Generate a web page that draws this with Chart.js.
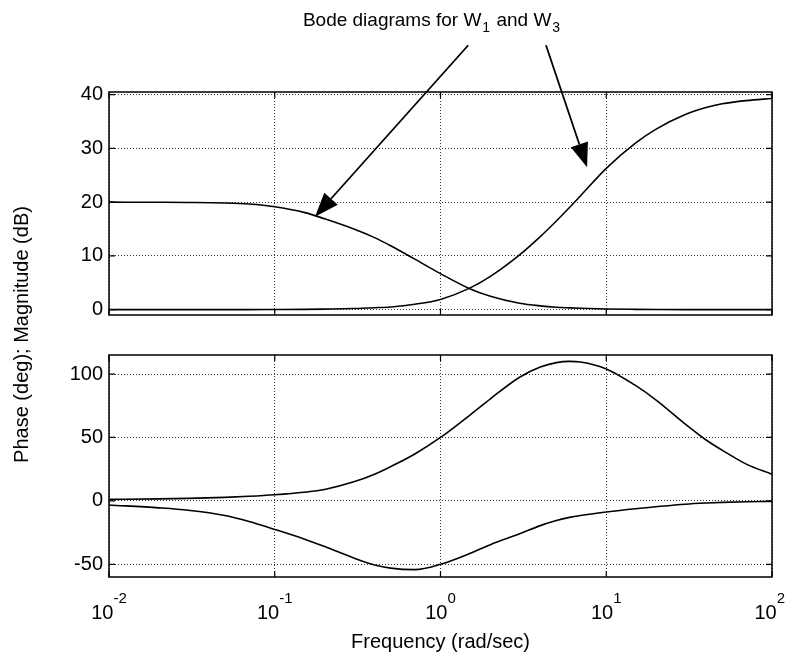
<!DOCTYPE html>
<html>
<head>
<meta charset="utf-8">
<script src="https://cdn.jsdelivr.net/npm/chart.js@4.4.0/dist/chart.umd.min.js"></script>
<style>
html,body{margin:0;padding:0;background:#fff;}
#wrap{position:relative;width:786px;height:659px;overflow:hidden;}
#wrap canvas{position:absolute;left:0;top:0;}
</style>
</head>
<body>
<div id="wrap">
<canvas id="mag" width="786" height="659"></canvas>
<canvas id="phase" width="786" height="659"></canvas>
</div>
<script>
// ---------- data ----------
const freq     = [0.01, 0.02, 0.03, 0.05, 0.07, 0.1, 0.15, 0.2, 0.3, 0.4, 0.5, 0.7, 1, 1.5, 2, 3, 4, 5, 6, 7, 10, 15, 20, 30, 40, 50, 70, 100];
const w1Mag    = [20, 19.98, 19.95, 19.85, 19.65, 19.15, 18.1, 16.9, 15.0, 13.4, 11.9, 9.4, 6.7, 3.9, 2.5, 1.2, 0.7, 0.45, 0.33, 0.25, 0.12, 0.05, 0.02, 0, 0, 0, 0, 0];
const w3Mag    = [0, 0, 0, 0, 0, 0.02, 0.05, 0.1, 0.2, 0.35, 0.5, 1.0, 1.9, 4.0, 6.2, 10.2, 13.6, 16.5, 19.0, 21.2, 26.3, 31.0, 33.6, 36.3, 37.6, 38.3, 38.9, 39.3];
const w1Phase  = [-3.2, -5.5, -7.4, -11.5, -16.2, -22.5, -30, -36, -45, -50.5, -53, -54.2, -50, -41.5, -34.5, -26, -19.5, -15.5, -13, -11.5, -8.8, -6.2, -4.6, -2.6, -1.7, -1.2, -0.7, -0.4];
const w3Phase  = [1.2, 1.6, 2.0, 2.8, 3.6, 4.8, 6.8, 9.0, 15, 21, 27, 37, 50, 67.5, 80.5, 97.5, 105.5, 109, 110, 109.5, 104, 91, 79.5, 60.5, 48, 40, 29, 21];

const freqTicks  = [0.01, 0.1, 1, 10, 100];
const freqExp    = ['-2', '-1', '0', '1', '2'];
const magTicks   = [0, 10, 20, 30, 40];
const phaseTicks = [-50, 0, 50, 100];

// annotation: arrows from the title down to each magnitude curve (freq, dB)
const arrowW1 = {from: [1.47, 49.2], to: [0.175, 17.3]};
const arrowW3 = {from: [4.33, 49.2], to: [7.66, 26.5]};

const FONT = '"Liberation Sans", Arial, Helvetica, sans-serif';

function pts(ys){
  return freq.map((f, i) => ({x: f, y: ys[i]}));
}

function lineSet(ys){
  return {
    data: pts(ys),
    borderColor: '#000',
    borderWidth: 1.6,
    pointRadius: 0,
    fill: false,
    cubicInterpolationMode: 'monotone'
  };
}

// frame box + small inward ticks like the matlab axes
const frame = {
  id: 'frame',
  afterDatasetsDraw(chart){
    const {ctx, chartArea: a, scales} = chart;
    ctx.save();
    ctx.strokeStyle = '#000';
    ctx.lineWidth = 1.5;
    ctx.strokeRect(a.left, a.top, a.width, a.height);
    ctx.lineWidth = 1.2;
    scales.x.ticks.forEach(t => {
      let x = scales.x.getPixelForValue(t.value);
      ctx.beginPath();
      ctx.moveTo(x, a.bottom); ctx.lineTo(x, a.bottom - 6);
      ctx.moveTo(x, a.top); ctx.lineTo(x, a.top + 6);
      ctx.stroke();
    });
    scales.y.ticks.forEach(t => {
      let y = scales.y.getPixelForValue(t.value);
      ctx.beginPath();
      ctx.moveTo(a.left, y); ctx.lineTo(a.left + 6, y);
      ctx.moveTo(a.right, y); ctx.lineTo(a.right - 6, y);
      ctx.stroke();
    });
    ctx.restore();
  }
};

function xScale(){
  return {
    type: 'logarithmic',
    min: 0.01,
    max: 100,
    afterBuildTicks: s => { s.ticks = freqTicks.map(v => ({value: v})); },
    ticks: {display: false},
    grid: {color: '#333', lineWidth: 1, drawTicks: false},
    border: {display: false, dash: [1, 2]},
    afterFit: s => { s.height = 0; }
  };
}

function yScale(min, max, tickVals){
  return {
    min: min,
    max: max,
    afterBuildTicks: s => { s.ticks = tickVals.map(v => ({value: v})); },
    ticks: {color: '#000', font: {family: FONT, size: 20}, padding: 6},
    grid: {color: '#333', lineWidth: 1, drawTicks: false},
    border: {display: false, dash: [1, 2]},
    afterFit: s => { s.width = 50; }
  };
}

function drawArrow(ctx, x0, y0, x1, y1){
  let ang = Math.atan2(y1 - y0, x1 - x0);
  let L = 24, H = 9;
  let bx = x1 - L * Math.cos(ang), by = y1 - L * Math.sin(ang);
  ctx.beginPath();
  ctx.moveTo(x0, y0);
  ctx.lineTo(bx, by);
  ctx.stroke();
  ctx.beginPath();
  ctx.moveTo(x1, y1);
  ctx.lineTo(bx + H * Math.sin(ang), by - H * Math.cos(ang));
  ctx.lineTo(bx - H * Math.sin(ang), by + H * Math.cos(ang));
  ctx.closePath();
  ctx.fill();
}

// title with subscripts and the two arrows
const annot = {
  id: 'annot',
  afterDraw(chart){
    const {ctx, scales} = chart;
    ctx.save();
    ctx.fillStyle = '#000';
    ctx.strokeStyle = '#000';
    ctx.textBaseline = 'alphabetic';
    ctx.textAlign = 'left';

    let parts = [['Bode diagrams for W', 0], ['1', 1], [' and W', 0], ['3', 1]];
    let widths = parts.map(p => {
      ctx.font = (p[1] ? '14px ' : '19px ') + FONT;
      return ctx.measureText(p[0]).width + (p[1] ? 2 : 0);
    });
    let total = widths.reduce((a, b) => a + b, 0);
    let x = 432 - total / 2;
    parts.forEach((p, i) => {
      ctx.font = (p[1] ? '14px ' : '19px ') + FONT;
      ctx.fillText(p[0], x + (p[1] ? 1 : 0), p[1] ? 32 : 26);
      x += widths[i];
    });

    ctx.lineWidth = 1.8;
    [arrowW1, arrowW3].forEach(a => {
      drawArrow(ctx,
        scales.x.getPixelForValue(a.from[0]), scales.y.getPixelForValue(a.from[1]),
        scales.x.getPixelForValue(a.to[0]), scales.y.getPixelForValue(a.to[1]));
    });
    ctx.restore();
  }
};

let magChart = new Chart(document.getElementById('mag'), {
  type: 'line',
  data: {datasets: [lineSet(w1Mag), lineSet(w3Mag)]},
  options: {
    responsive: false,
    animation: false,
    events: [],
    layout: {padding: {left: 59, right: 14, top: 92, bottom: 344}},
    plugins: {legend: {display: false}, tooltip: {enabled: false}},
    scales: {x: xScale(), y: yScale(-1, 40.5, magTicks)}
  },
  plugins: [frame, annot]
});

// x tick labels as 10^n, axis titles
const labels = {
  id: 'labels',
  afterDraw(chart){
    const {ctx, chartArea: a, scales} = chart;
    ctx.save();
    ctx.fillStyle = '#000';
    ctx.textBaseline = 'alphabetic';
    ctx.textAlign = 'left';
    freqTicks.forEach((v, i) => {
      let x = scales.x.getPixelForValue(v);
      ctx.font = '20px ' + FONT;
      let wb = ctx.measureText('10').width;
      ctx.font = '15px ' + FONT;
      let we = ctx.measureText(freqExp[i]).width;
      let left = Math.min(x - (wb + we) / 2, 785 - wb - we);
      ctx.font = '20px ' + FONT;
      ctx.fillText('10', left, a.bottom + 42);
      ctx.font = '15px ' + FONT;
      ctx.fillText(freqExp[i], left + wb, a.bottom + 26);
    });

    ctx.font = '20px ' + FONT;
    ctx.textAlign = 'center';
    ctx.fillText('Frequency (rad/sec)', (a.left + a.right) / 2, a.bottom + 71);

    let top = magChart.chartArea.top;
    ctx.translate(22, (top + a.bottom) / 2);
    ctx.rotate(-Math.PI / 2);
    ctx.textBaseline = 'middle';
    ctx.fillText('Phase (deg); Magnitude (dB)', 0, 0);
    ctx.restore();
  }
};

let phaseChart = new Chart(document.getElementById('phase'), {
  type: 'line',
  data: {datasets: [lineSet(w3Phase), lineSet(w1Phase)]},
  options: {
    responsive: false,
    animation: false,
    events: [],
    layout: {padding: {left: 59, right: 14, top: 355, bottom: 82}},
    plugins: {legend: {display: false}, tooltip: {enabled: false}},
    scales: {x: xScale(), y: yScale(-60, 115, phaseTicks)}
  },
  plugins: [frame, labels]
});
</script>
</body>
</html>
